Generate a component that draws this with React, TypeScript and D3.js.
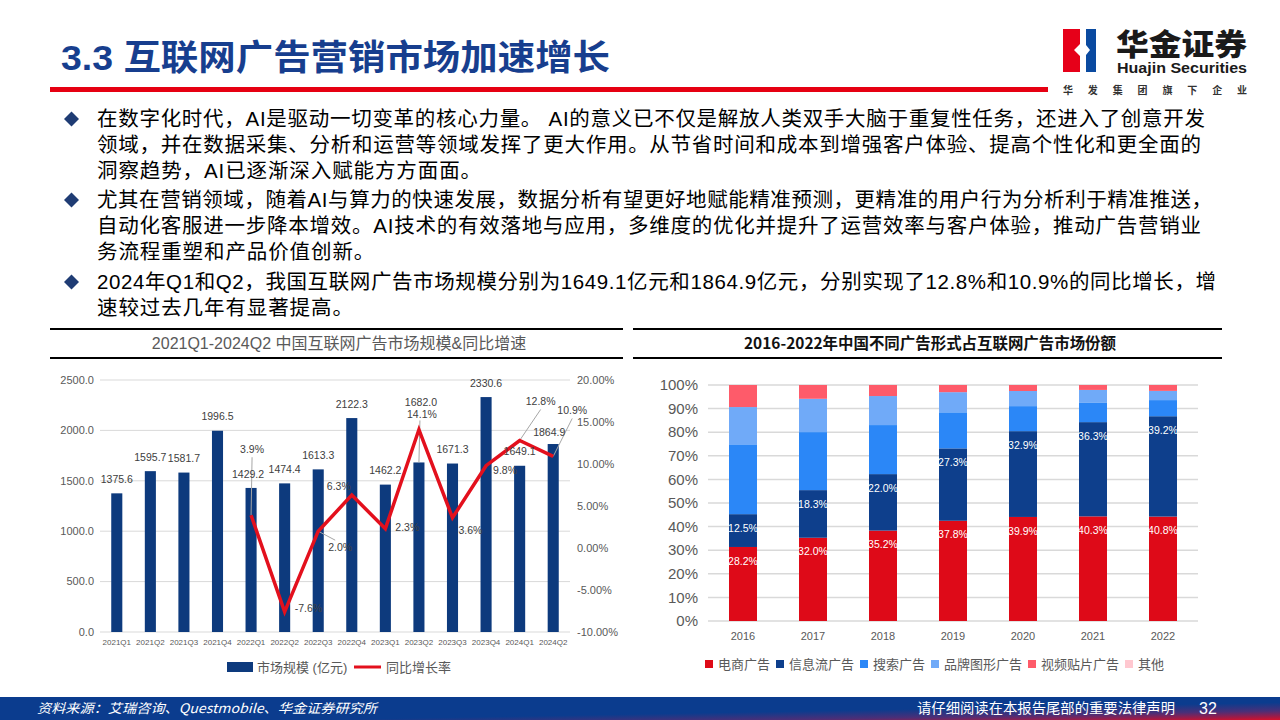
import React from "react";
import * as d3 from "d3";

// ---------- DATA ----------
const quarters = ["2021Q1","2021Q2","2021Q3","2021Q4","2022Q1","2022Q2","2022Q3","2022Q4","2023Q1","2023Q2","2023Q3","2023Q4","2024Q1","2024Q2"];
const marketSize = [1375.6,1595.7,1581.7,1996.5,1429.2,1474.4,1613.3,2122.3,1462.2,1682.0,1671.3,2330.6,1649.1,1864.9];
const yoyGrowth: (number | null)[] = [null,null,null,null,3.9,-7.6,2.0,6.3,2.3,14.1,3.6,9.8,12.8,10.9];
const leftTicks = [0,500,1000,1500,2000,2500];
const rightTicks = [-10,-5,0,5,10,15,20];

const years = ["2016","2017","2018","2019","2020","2021","2022"];
const ecommerce = [28.2,32.0,35.2,37.8,39.9,40.3,40.8];
const feed = [12.5,18.3,22.0,27.3,32.9,36.3,39.2];
const searchAds = [26.6,22.3,19.1,13.6,9.6,7.4,6.3];
const brandAds = [14.2,12.8,11.3,7.6,5.8,5.0,3.6];
const videoAds = [8.4,5.3,4.3,2.7,2.3,1.9,2.3];
const otherAds = [0,0,0,0,0,0,0];
const shareTicks = [0,0.1,0.2,0.3,0.4,0.5,0.6,0.7,0.8,0.9,1];

const seriesNames = ["电商广告","信息流广告","搜索广告","品牌图形广告","视频贴片广告","其他"];
const seriesKeys = ["ecommerce","feed","search","brand","video","other"];

const bullets = [
  ["在数字化时代，AI是驱动一切变革的核心力量。 AI的意义已不仅是解放人类双手大脑于重复性任务，还进入了创意开发",
   "领域，并在数据采集、分析和运营等领域发挥了更大作用。从节省时间和成本到增强客户体验、提高个性化和更全面的",
   "洞察趋势，AI已逐渐深入赋能方方面面。"],
  ["尤其在营销领域，随着AI与算力的快速发展，数据分析有望更好地赋能精准预测，更精准的用户行为分析利于精准推送，",
   "自动化客服进一步降本增效。AI技术的有效落地与应用，多维度的优化并提升了运营效率与客户体验，推动广告营销业",
   "务流程重塑和产品价值创新。"],
  ["2024年Q1和Q2，我国互联网广告市场规模分别为1649.1亿元和1864.9亿元，分别实现了12.8%和10.9%的同比增长，增",
   "速较过去几年有显著提高。"],
];

// ---------- STYLE / LAYOUT ----------
const SANS = "'Liberation Sans', Arial, 'Noto Sans CJK SC', sans-serif";
const CJK = "'Noto Sans CJK SC', 'Liberation Sans', sans-serif";
const NAVY = "#0D3A7D";
const RED = "#E3101D";
const seriesColors = ["#DE0A18", "#0E3F8C", "#2B87F7", "#70AAF8", "#FE5B6A", "#FFC8D0"];

const bulletLineEnds: (number | null)[][] = [
  [1205, 1201, null],
  [1212, 1201, null],
  [1216, null],
];
const bulletLineY = [[119, 145, 171], [200, 226, 252], [282, 308]];

const barLabelOffset: Record<number, [number, number]> = { 4: [-3, -14], 9: [2, -60], 12: [0, -14], 13: [-4, -12] };
const lineLabelOffset: Record<number, [number, number, string]> = {
  4: [1, -66, "middle"], 5: [10, -4, "start"], 6: [10, 16, "start"], 7: [-1, -9, "end"],
  8: [10, -1, "start"], 9: [3, -15, "middle"], 10: [6, 13, "start"], 11: [7, 5, "start"],
  12: [21, -39, "middle"], 13: [19, -46, "middle"],
};

export default function App() {
  const xL = d3.scaleBand<string>().domain(quarters).range([100, 570]).paddingInner(0.67).paddingOuter(0.335);
  const yL = d3.scaleLinear().domain([0, 2500]).range([632, 380]);
  const yG = d3.scaleLinear().domain([-10, 20]).range([632, 380]);
  const cx = (i: number) => (xL(quarters[i]) as number) + xL.bandwidth() / 2;

  const lineGen = d3.line<number | null>()
    .defined((d) => d != null)
    .x((_, i) => cx(i))
    .y((d) => yG(d as number));
  const linePath = lineGen(yoyGrowth) || "";

  const table = years.map((y, i) => ({
    year: y, ecommerce: ecommerce[i], feed: feed[i], search: searchAds[i],
    brand: brandAds[i], video: videoAds[i], other: otherAds[i],
  }));
  const stack = d3.stack<any>().keys(seriesKeys).offset(d3.stackOffsetExpand);
  const stacked = stack(table);
  const xR = d3.scaleBand<string>().domain(years).range([708, 1198]).paddingInner(0.6).paddingOuter(0.3);
  const yR = d3.scaleLinear().domain([0, 1]).range([621, 385]);
  const labelSeries: Record<string, number[]> = { ecommerce, feed };

  const legendItems: { x: number; tx: number; name: string; color: string }[] = [];
  let lx = 705;
  seriesNames.forEach((n, i) => {
    legendItems.push({ x: lx, tx: lx + 13, name: n, color: seriesColors[i] });
    lx += 13 + n.length * 13 + 6;
  });

  return (
    <svg width={1280} height={720} viewBox="0 0 1280 720"
      style={{ position: "absolute", left: 0, top: 0, background: "#fff" }}>
      <defs>
        <linearGradient id="footGrad" x1="0" y1="0" x2="1" y2="1">
          <stop offset="0" stopColor="#0B3C8E" />
          <stop offset="0.62" stopColor="#0B3C8E" />
          <stop offset="0.8" stopColor="#4A2F78" />
          <stop offset="0.93" stopColor="#A31A45" />
          <stop offset="1" stopColor="#D8102A" />
        </linearGradient>
      </defs>

      {/* Header */}
      <text x={61} y={70} fontFamily={SANS} fontWeight={700} fontSize={35} fill="#173E8E"
        textLength={549} lengthAdjust="spacingAndGlyphs">3.3 互联网广告营销市场加速增长</text>
      <rect x={50} y={87} width={998} height={5} fill="#E60012" />

      <rect x={1063} y={29} width={21} height={43} fill="#E60019" />
      <rect x={1084} y={29} width={12} height={43} fill="#0A4AA0" />
      <path d="M1080,29 L1086,29 L1086,45 L1090,50 L1086,55 L1086,72 L1080,72 L1080,56 L1074,50 L1080,44 Z" fill="#fff" />
      <text x={1116} y={55} fontFamily={CJK} fontWeight={900} fontSize={30} fill="#1a1a1a"
        textLength={131} lengthAdjust="spacingAndGlyphs">华金证券</text>
      <text x={1117} y={73} fontFamily={SANS} fontWeight={700} fontSize={14} fill="#1a1a1a"
        textLength={130} lengthAdjust="spacingAndGlyphs">Huajin Securities</text>
      <text x={1063} y={94} fontFamily={CJK} fontWeight={700} fontSize={10} fill="#333"
        textLength={184} lengthAdjust="spacing">华发集团旗下企业</text>

      {/* Bullets */}
      {bullets.map((lines, bi) => (
        <g key={bi}>
          <path d={`M71.5,${bulletLineY[bi][0] - 7.5} L79,${bulletLineY[bi][0]} L71.5,${bulletLineY[bi][0] + 7.5} L64,${bulletLineY[bi][0]} Z`} fill="#1F3C74" />
          {lines.map((ln, li) => {
            const end = bulletLineEnds[bi][li];
            return (
              <text key={li} x={97} y={bulletLineY[bi][li] + 7} fontFamily={SANS} fontSize={20.5} fill="#000"
                {...(end ? { textLength: end - 97, lengthAdjust: "spacing" } : { letterSpacing: 0.9 })}>{ln}</text>
            );
          })}
        </g>
      ))}

      {/* Left chart */}
      <line x1={50} x2={623} y1={329} y2={329} stroke="#000" strokeWidth={2} />
      <text x={339} y={349} textAnchor="middle" fontFamily={SANS} fontSize={16} fill="#595959">2021Q1-2024Q2 中国互联网广告市场规模&amp;同比增速</text>
      <line x1={50} x2={623} y1={358} y2={358} stroke="#000" strokeWidth={2} />

      {leftTicks.map((t) => (
        <g key={t}>
          <line x1={100} x2={570} y1={yL(t)} y2={yL(t)} stroke="#D9D9D9" strokeWidth={1} />
          <text x={94} y={yL(t)} dy="0.35em" textAnchor="end" fontFamily={SANS} fontSize={11} fill="#595959">{t.toFixed(1)}</text>
        </g>
      ))}
      {rightTicks.map((t) => (
        <text key={t} x={577} y={yG(t)} dy="0.35em" fontFamily={SANS} fontSize={11} fill="#595959">{t.toFixed(2)}%</text>
      ))}
      {quarters.map((q, i) => (
        <text key={q} x={cx(i)} y={645} textAnchor="middle" fontFamily={SANS} fontSize={8} fill="#595959">{q}</text>
      ))}

      {marketSize.map((v, i) => (
        <rect key={i} x={xL(quarters[i])} y={yL(v)} width={xL.bandwidth()} height={yL(0) - yL(v)} fill={NAVY} />
      ))}

      <g stroke="#A6A6A6" strokeWidth={1} fill="none">
        <line x1={cx(4) + 1} y1={yG(yoyGrowth[4] as number) - 58} x2={cx(4)} y2={yG(yoyGrowth[4] as number)} />
        <line x1={cx(6)} y1={yG(yoyGrowth[6] as number)} x2={cx(6) + 17} y2={yG(yoyGrowth[6] as number) + 9} />
        <line x1={cx(9) + 1} y1={yL(marketSize[9]) - 42} x2={cx(9)} y2={yL(marketSize[9])} />
        <line x1={cx(12)} y1={yG(yoyGrowth[12] as number)} x2={cx(12) + 21} y2={yG(yoyGrowth[12] as number) - 31} />
        <line x1={cx(13)} y1={yG(yoyGrowth[13] as number)} x2={cx(13) + 19} y2={yG(yoyGrowth[13] as number) - 38} />
      </g>

      <path d={linePath} fill="none" stroke={RED} strokeWidth={3.5} strokeLinejoin="miter" />

      {marketSize.map((v, i) => {
        const [dx, dy] = barLabelOffset[i] || [0, -14];
        return (
          <text key={i} x={cx(i) + dx} y={yL(v) + dy} dy="0.35em" textAnchor="middle"
            fontFamily={SANS} fontSize={10.5} fill="#404040">{v.toFixed(1)}</text>
        );
      })}
      {yoyGrowth.map((v, i) => {
        if (v == null) return null;
        const [dx, dy, anchor] = lineLabelOffset[i];
        return (
          <text key={i} x={cx(i) + dx} y={yG(v) + dy} dy="0.35em" textAnchor={anchor as any}
            fontFamily={SANS} fontSize={10.5} fill="#404040">{v.toFixed(1)}%</text>
        );
      })}

      <rect x={227} y={662} width={26} height={10} fill={NAVY} />
      <text x={257} y={667} dy="0.35em" fontFamily={SANS} fontSize={13} fill="#595959">市场规模 (亿元)</text>
      <line x1={354} x2={381} y1={667} y2={667} stroke={RED} strokeWidth={3} />
      <text x={386} y={667} dy="0.35em" fontFamily={SANS} fontSize={13} fill="#595959">同比增长率</text>

      {/* Right chart */}
      <line x1={633} x2={1222} y1={329} y2={329} stroke="#000" strokeWidth={2} />
      <text x={930} y={349} textAnchor="middle" fontFamily={CJK} fontWeight={700} fontSize={15.5} fill="#111"
        textLength={372} lengthAdjust="spacingAndGlyphs">2016-2022年中国不同广告形式占互联网广告市场份额</text>
      <line x1={633} x2={1222} y1={358} y2={358} stroke="#000" strokeWidth={2} />

      {shareTicks.map((t) => (
        <g key={t}>
          <line x1={708} x2={1198} y1={yR(t)} y2={yR(t)} stroke="#D9D9D9" strokeWidth={1.5} />
          <text x={698} y={yR(t)} dy="0.35em" textAnchor="end" fontFamily={SANS} fontSize={15} fill="#595959">{Math.round(t * 100)}%</text>
        </g>
      ))}
      {years.map((y) => (
        <text key={y} x={(xR(y) as number) + xR.bandwidth() / 2} y={636} dy="0.35em" textAnchor="middle"
          fontFamily={SANS} fontSize={11} fill="#595959">{y}</text>
      ))}

      {stacked.map((s, si) => (
        <g key={s.key} fill={seriesColors[si]}>
          {s.map((d, i) => (
            <rect key={i} x={xR(years[i])} y={yR(d[1])} width={xR.bandwidth()} height={Math.max(0, yR(d[0]) - yR(d[1]))} />
          ))}
        </g>
      ))}
      {stacked.filter((s) => labelSeries[s.key]).map((s) => (
        <g key={"l" + s.key}>
          {s.map((d, i) => (
            <text key={i} x={(xR(years[i]) as number) + xR.bandwidth() / 2} y={yR(d[1]) + 14} dy="0.35em"
              textAnchor="middle" fontFamily={SANS} fontSize={10.5} fill="#fff">{labelSeries[s.key][i].toFixed(1)}%</text>
          ))}
        </g>
      ))}

      {legendItems.map((it) => (
        <g key={it.name}>
          <rect x={it.x} y={660} width={8} height={8} fill={it.color} />
          <text x={it.tx} y={664} dy="0.35em" fontFamily={CJK} fontSize={13} fill="#595959">{it.name}</text>
        </g>
      ))}

      {/* Footer */}
      <rect x={0} y={697} width={1280} height={23} fill="url(#footGrad)" />
      <text x={37} y={713} fontFamily={CJK} fontStyle="italic" fontSize={13} fill="#fff"
        textLength={340} lengthAdjust="spacingAndGlyphs">资料来源：艾瑞咨询、Questmobile、华金证券研究所</text>
      <text x={917} y={713} fontFamily={CJK} fontSize={14} fill="#fff"
        textLength={258} lengthAdjust="spacingAndGlyphs">请仔细阅读在本报告尾部的重要法律声明</text>
      <text x={1199} y={714} fontFamily={SANS} fontSize={16} fill="#fff">32</text>
    </svg>
  );
}
